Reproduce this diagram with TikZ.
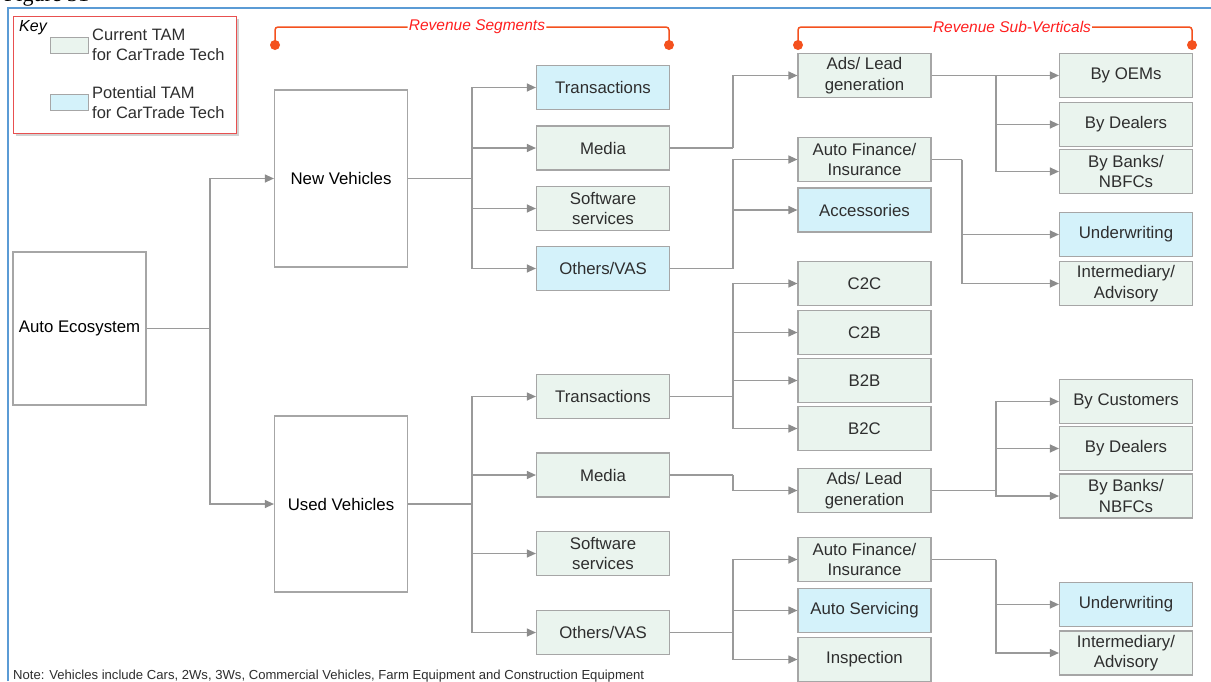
\documentclass[tikz,border=0pt]{standalone}
\usepackage{fontspec}
\setmainfont{Liberation Sans}
\newfontfamily\figserif{Liberation Serif}
\usetikzlibrary{arrows.meta,shadows,calc}
\definecolor{curfill}{HTML}{EAF4EE}
\definecolor{potfill}{HTML}{D4F2FA}
\definecolor{bord}{HTML}{A6A6A6}
\definecolor{connc}{HTML}{9A9A9A}
\definecolor{tipc}{HTML}{8C8C8C}
\definecolor{hdr}{HTML}{FF1F1F}
\definecolor{brk}{HTML}{F4511E}
\definecolor{framec}{HTML}{5B9BD5}
\definecolor{keyred}{HTML}{E85050}
\definecolor{txt}{HTML}{2E2E2E}
\begin{document}
\begin{tikzpicture}[x=1pt,y=-1pt,
  box/.style={draw=bord, line width=1.2pt, inner sep=0pt, align=center, text=txt, font=\fontsize{16.8}{20.5}\selectfont},
  cur/.style={box, fill=curfill, minimum width=133, minimum height=44},
  pot/.style={box, fill=potfill, minimum width=133, minimum height=44},
  big/.style={box, fill=white, minimum width=133, text=black},
  conn/.style={draw=connc, line width=1.2pt},
  arr/.style={conn, -{Triangle[length=9pt,width=8pt,color=tipc]}},
  hdrtext/.style={text=hdr, font=\fontsize{15.5}{18}\selectfont\itshape, inner sep=1pt},
  brkline/.style={draw=brk, line width=1.5pt, rounded corners=3pt},
  dot/.style={circle, fill=brk, inner sep=0pt, minimum size=10pt},
  keytext/.style={anchor=west, inner sep=0pt, align=left, text=txt, font=\fontsize{16.5}{20}\selectfont},
]
\useasboundingbox (0,0) rectangle (1211,681);
\fill[white] (0,0) rectangle (1211,681);

% title (cut off at the top, as in the source) and frame
\node[anchor=base west, inner sep=0pt, font=\figserif\fontsize{22}{24}\selectfont] (title) at (4,1.5) {Figure 31};
\draw[framec, line width=2pt] (8,681) -- (8,8) -- (1211,8);

% key
\node[draw=keyred, line width=1.2pt, fill=white, drop shadow={shadow xshift=2pt, shadow yshift=-2pt, opacity=0.35},
      minimum width=223, minimum height=117, inner sep=0pt, anchor=north west] (key) at (13,16) {};
\node[anchor=north west, inner sep=0pt, font=\fontsize{16}{18}\selectfont\itshape] (keyt) at (19,20) {Key};
\node[draw=bord, line width=1pt, fill=curfill, minimum width=38, minimum height=16, inner sep=0pt] (sw1) at (69,45) {};
\node[draw=bord, line width=1pt, fill=potfill, minimum width=38, minimum height=16, inner sep=0pt] (sw2) at (69,102.5) {};
\node[keytext] (k1) at (92,45) {Current TAM\\for CarTrade Tech};
\node[keytext] (k2) at (92,102.5) {Potential TAM\\for CarTrade Tech};

% headers
\node[hdrtext] (hs) at (477,27) {Revenue Segments};
\node[dot] (hsl) at (275,45) {};
\node[dot] (hsr) at (669,45) {};
\draw[brkline] (hsl.center) |- (hs.west);
\draw[brkline] (hs.east) -| (hsr.center);
\node[hdrtext] (hv) at (1012,27) {Revenue Sub-Verticals};
\node[dot] (hvl) at (798,45) {};
\node[dot] (hvr) at (1192,45) {};
\draw[brkline] (hvl.center) |- (hv.west);
\draw[brkline] (hv.east) -| (hvr.center);

% level 0/1
\node[big, minimum height=153] (ae) at (79.5,328.5) {Auto Ecosystem};
\node[big, minimum height=177] (nv) at (341,178.5) {New Vehicles};
\node[big, minimum height=176] (uv) at (341,504) {Used Vehicles};

% segments
\node[pot] (t1) at (603,87.5) {Transactions};
\node[cur] (m1) at (603,148) {Media};
\node[cur] (s1) at (603,208.5) {Software\\services};
\node[pot] (o1) at (603,268.5) {Others/VAS};
\node[cur] (t2) at (603,396.5) {Transactions};
\node[cur] (m2) at (603,475) {Media};
\node[cur] (s2) at (603,553.5) {Software\\services};
\node[cur] (o2) at (603,632.5) {Others/VAS};

% sub-verticals
\node[cur] (ad1) at (864.5,75.5) {Ads/ Lead\\generation};
\node[cur] (af1) at (864.5,159.5) {Auto Finance/\\Insurance};
\node[pot] (acc) at (864.5,210) {Accessories};
\node[cur] (c2c) at (864.5,283.5) {C2C};
\node[cur] (c2b) at (864.5,332.5) {C2B};
\node[cur] (b2b) at (864.5,380.5) {B2B};
\node[cur] (b2c) at (864.5,428.5) {B2C};
\node[cur] (ad2) at (864.5,490.5) {Ads/ Lead\\generation};
\node[cur] (af2) at (864.5,559.5) {Auto Finance/\\Insurance};
\node[pot] (asv) at (864.5,610.5) {Auto Servicing};
\node[cur] (ins) at (864.5,659.5) {Inspection};

% right column
\node[cur] (oem1) at (1126,75.5) {By OEMs};
\node[cur] (dl1) at (1126,124.5) {By Dealers};
\node[cur] (bk1) at (1126,171.5) {By Banks/\\NBFCs};
\node[pot] (uw1) at (1126,234.5) {Underwriting};
\node[cur] (im1) at (1126,283.5) {Intermediary/\\Advisory};
\node[cur] (cu2) at (1126,401.5) {By Customers};
\node[cur] (dl2) at (1126,448.5) {By Dealers};
\node[cur] (bk2) at (1126,496) {By Banks/\\NBFCs};
\node[pot] (uw2) at (1126,604.5) {Underwriting};
\node[cur] (im2) at (1126,653) {Intermediary/\\Advisory};

% bus x positions
\coordinate (xa) at (210,0);
\coordinate (xb) at (472,0);
\coordinate (xc) at (733,0);
\coordinate (xd) at (996,0);
\coordinate (xe) at (962,0);

% connectors
\draw[conn] (ae.east) -- (ae.east -| xa);
\foreach \t in {nv,uv} \draw[arr] (ae.east -| xa) |- (\t.west);

\draw[conn] (nv.east) -- (nv.east -| xb);
\foreach \t in {t1,m1,s1,o1} \draw[arr] (nv.east -| xb) |- (\t.west);
\draw[conn] (uv.east) -- (uv.east -| xb);
\foreach \t in {t2,m2,s2,o2} \draw[arr] (uv.east -| xb) |- (\t.west);

\draw[conn] (m1.east) -- (m1.east -| xc);
\draw[arr] (m1.east -| xc) |- (ad1.west);
\draw[conn] (o1.east) -- (o1.east -| xc);
\foreach \t in {af1,acc} \draw[arr] (o1.east -| xc) |- (\t.west);
\draw[conn] (t2.east) -- (t2.east -| xc);
\foreach \t in {c2c,c2b,b2b,b2c} \draw[arr] (t2.east -| xc) |- (\t.west);
\draw[conn] (m2.east) -- (m2.east -| xc);
\draw[arr] (m2.east -| xc) |- (ad2.west);
\draw[conn] (o2.east) -- (o2.east -| xc);
\foreach \t in {af2,asv,ins} \draw[arr] (o2.east -| xc) |- (\t.west);

\draw[conn] (ad1.east) -- (ad1.east -| xd);
\foreach \t in {oem1,dl1,bk1} \draw[arr] (ad1.east -| xd) |- (\t.west);
\draw[conn] (af1.east) -- (af1.east -| xe);
\foreach \t in {uw1,im1} \draw[arr] (af1.east -| xe) |- (\t.west);
\draw[conn] (ad2.east) -- (ad2.east -| xd);
\foreach \t in {cu2,dl2,bk2} \draw[arr] (ad2.east -| xd) |- (\t.west);
\draw[conn] (af2.east) -- (af2.east -| xd);
\foreach \t in {uw2,im2} \draw[arr] (af2.east -| xd) |- (\t.west);

% note
\node[anchor=base west, inner sep=0pt, text=txt, font=\fontsize{13.1}{15}\selectfont] (note) at (13,679)
  {Note: Vehicles include Cars, 2Ws, 3Ws, Commercial Vehicles, Farm Equipment and Construction Equipment};
\end{tikzpicture}
\end{document}
